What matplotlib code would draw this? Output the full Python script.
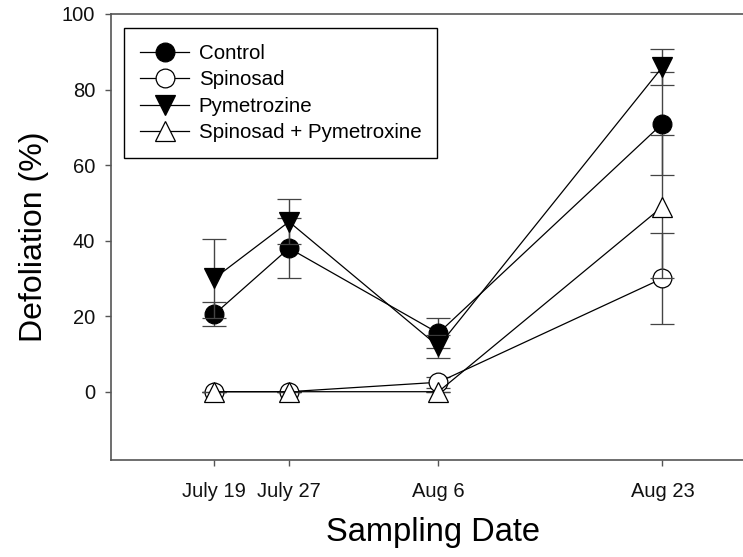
import numpy as np
import matplotlib
matplotlib.use("Agg")
import matplotlib.pyplot as plt

plt.rcParams['font.family'] = ['Liberation Sans', 'DejaVu Sans']

# sampling occasions (x position on the axis) and their labels
sample_pos = [1, 2, 4, 7]
sample_labels = ["July 19", "July 27", "Aug 6", "Aug 23"]

treatments = ["Control", "Spinosad", "Pymetrozine", "Spinosad + Pymetroxine"]

# defoliation means (%)
control = [20.5, 38.0, 15.5, 71.0]
spinosad = [0.0, 0.0, 2.5, 30.0]
pymetrozine = [30.0, 45.0, 12.0, 86.0]
spin_pym = [0.0, 0.0, 0.0, 49.0]

# standard errors
control_se = [3.2, 8.0, 4.0, 13.6]
spinosad_se = [0.0, 0.0, 1.5, 12.0]
pymetrozine_se = [10.5, 6.0, 3.0, 4.7]
spin_pym_se = [0.0, 0.0, 0.0, 19.0]

means = [control, spinosad, pymetrozine, spin_pym]
errors = [control_se, spinosad_se, pymetrozine_se, spin_pym_se]
markers = ["o", "o", "v", "^"]
faces = ["black", "white", "black", "white"]

fig = plt.figure(figsize=(7.43, 5.57), dpi=100)
ax = fig.add_axes([0.1494, 0.1747, 0.8654, 0.8002])

handles = []
for i in range(4):
    eb = ax.errorbar(sample_pos, means[i], yerr=errors[i], color="black", lw=0.9,
                     marker=markers[i], ms=13.5 if markers[i] == "o" else 14.5,
                     mfc=faces[i], mec="black", mew=0.9,
                     ecolor="#444444", elinewidth=1.0, capsize=8.6, capthick=1.0,
                     label=treatments[i], zorder=3 + i)
    handles.append(eb[0])

ax.set_xlim(-0.383, 8.225)
ax.set_ylim(-18, 100)
ax.set_yticks([0, 20, 40, 60, 80, 100])
ax.set_xticks(sample_pos)
ax.set_xticklabels(sample_labels)

for s in ["left", "bottom", "top", "right"]:
    ax.spines[s].set_color("#555555")
    ax.spines[s].set_linewidth(1.2)

ax.tick_params(axis="both", direction="out", length=4.3, width=1.0,
               color="#555555", labelsize=14.5, labelcolor="#111111")
ax.tick_params(axis="x", pad=11.5)
ax.tick_params(axis="y", pad=7.2)

ax.set_xlabel("Sampling Date", fontsize=23.5, labelpad=12)
ax.set_ylabel("Defoliation (%)", fontsize=23, labelpad=9)

leg = ax.legend(handles, treatments, loc="upper left",
                bbox_to_anchor=(0.0202, 0.9686),
                borderaxespad=0, fontsize=14.8, frameon=True, fancybox=False,
                edgecolor="black", framealpha=1, handlelength=2.4,
                handletextpad=0.45, borderpad=0.78, labelspacing=0.36)
leg.get_frame().set_linewidth(1.0)

fig.savefig("out.png", dpi=100)
